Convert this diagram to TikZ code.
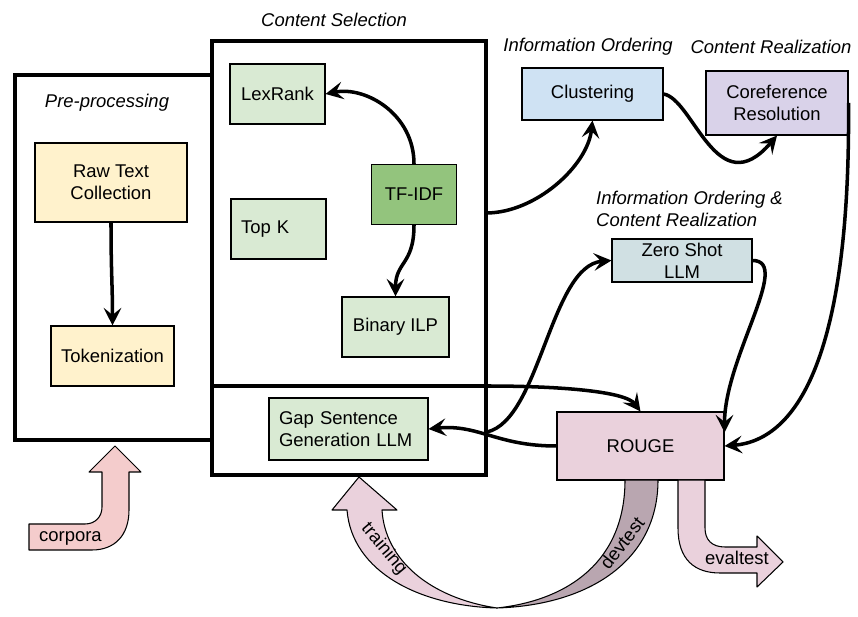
\documentclass[tikz,border=0pt]{standalone}
\usepackage{fontspec}
\setmainfont{Liberation Sans}
\usetikzlibrary{arrows.meta}

\definecolor{prepyellow}{HTML}{FFF2CC}
\definecolor{selgreen}{HTML}{D9EAD3}
\definecolor{tfgreen}{HTML}{93C47D}
\definecolor{ordblue}{HTML}{CFE2F3}
\definecolor{realpurple}{HTML}{D9D2E9}
\definecolor{llmgrey}{HTML}{D0E0E3}
\definecolor{evalpink}{HTML}{EAD1DC}
\definecolor{devmauve}{HTML}{B9A6B0}
\definecolor{corpuspink}{HTML}{F4CCCC}

\tikzset{
    every node/.style={font=\fontsize{10.5}{12.5}\selectfont},
    stagebox/.style={draw, line width=2.1pt},
    procbox/.style={draw, line width=0.6pt, align=center, inner sep=2pt},
    stagelabel/.style={font=\fontsize{10.5}{12.5}\selectfont\itshape},
    flow/.style={line width=2pt, -{Stealth[length=10pt,width=10pt,inset=4pt]}},
    bigarrow/.style={draw, line width=0.6pt, line join=round}
}

\begin{document}
\begin{tikzpicture}[x=0.02cm, y=-0.02cm]
    \useasboundingbox (0,0) rectangle (858,617);

    % Pre-processing stage
    \draw[stagebox] (15,75) rectangle (212,440);
    \node[stagelabel] (preplabel) at (107,103) {Pre-processing};
    \node[procbox, fill=prepyellow, minimum width=3.04cm, minimum height=1.58cm] (rawtext) at (111,182.5) {Raw Text\\Collection};
    \node[procbox, fill=prepyellow, minimum width=2.46cm, minimum height=1.2cm] (tokenize) at (112.5,356) {Tokenization};
    \draw[flow] (rawtext.south) .. controls +(0,50) and +(0,-40) .. (tokenize.north);

    % Content selection stage
    \draw[stagebox] (212,41) rectangle (486,475);
    \node[stagelabel] (sellabel) at (334,20) {Content Selection};
    \node[procbox, fill=selgreen, minimum width=1.9cm, minimum height=1.2cm] (lexrank) at (277.5,94) {LexRank};
    \node[procbox, fill=selgreen, text width=1.5cm, inner xsep=0.2cm, align=left, minimum height=1.2cm] (topk) at (278.5,229) {Top K};
    \node[procbox, fill=tfgreen, minimum width=1.7cm, minimum height=1.2cm] (tfidf) at (414,194.5) {TF-IDF};
    \node[procbox, fill=selgreen, minimum width=2.14cm, minimum height=1.2cm] (binilp) at (395.5,327) {Binary ILP};
    \draw[flow] (tfidf.north) .. controls +(0,-50) and +(40,-8) .. (lexrank.east);
    \draw[flow] (tfidf.south) .. controls +(0,40) and +(0,-35) .. (binilp.north);

    % Fine-tuned LLM part
    \draw[stagebox] (212,386) -- (486,386);
    \node[procbox, fill=selgreen, text width=2.78cm, inner xsep=0.2cm, align=left, minimum height=1.24cm] (gapsent) at (348.5,429) {Gap Sentence\\Generation LLM};

    % Information ordering and content realization
    \node[stagelabel] (ordlabel) at (588,47) {Information Ordering};
    \node[stagelabel] (reallabel) at (771,47) {Content Realization};
    \node[stagelabel, anchor=west, align=left] (llmlabel) at (590,208.5) {Information Ordering \&\\Content Realization};
    \node[procbox, fill=ordblue, minimum width=2.82cm, minimum height=1.04cm] (cluster) at (592.5,94) {Clustering};
    \node[procbox, fill=realpurple, minimum width=2.84cm, minimum height=1.28cm] (coref) at (777,103) {Coreference\\Resolution};
    \node[procbox, fill=llmgrey, minimum width=2.8cm, minimum height=0.86cm] (zeroshot) at (682,260.5) {Zero Shot\\LLM};

    % Evaluation
    \node[procbox, fill=evalpink, minimum width=3.34cm, minimum height=1.36cm] (rouge) at (640.5,446) {ROUGE};

    % Connectors between stages
    \coordinate (selout) at (486,213);
    \coordinate (llmout) at (486,386);
    \coordinate (branch) at (487,432);
    \draw[flow] (selout) .. controls +(50,0) and +(-5,45) .. (cluster.south);
    \draw[flow] (cluster.east) .. controls +(30,5) and +(-60,70) .. (coref.south);
    \draw[flow] (coref.east) .. controls +(2,247) and +(75,-6) .. (rouge.east);
    \draw[flow] (zeroshot.east) .. controls +(40,0) and +(0,-75) .. ([yshift=-0.42cm]rouge.north east);
    \draw[flow] (llmout) .. controls +(75,0) and +(-15,-20) .. (rouge.north);
    \draw[flow] (rouge.west) .. controls +(-60,0) and +(50,-5) .. (gapsent.east);
    \draw[flow] (branch) .. controls +(53,-12) and +(-61,5) .. (zeroshot.west);

    % Block arrows
    \filldraw[bigarrow, fill=corpuspink] (29,524) -- (85,524) .. controls (95,524) and (102,517) .. (102,507)
        -- (102,472) -- (89,472) -- (115,446) -- (141,472) -- (129,472) -- (129,510)
        .. controls (129,535) and (115,550) .. (92,550) -- (29,550) -- cycle;
    \node[anchor=west] (corpora) at (33,538) {corpora};

    \filldraw[bigarrow, fill=devmauve] (625,480) .. controls (625,560) and (570,600) .. (497,608)
        .. controls (590,605) and (658,560) .. (658,480) -- cycle;
    \filldraw[bigarrow, fill=evalpink] (497,608) .. controls (430,598) and (385,560) .. (382,510)
        -- (397,510) -- (359,477) -- (332,510) -- (347,510)
        .. controls (352,572) and (420,606) .. (497,608) -- cycle;
    \node[rotate=-50] (training) at (384,549) {training};
    \node[rotate=52] (devtest) at (622,543) {devtest};

    \filldraw[bigarrow, fill=evalpink] (678,480) -- (678,528) .. controls (678,560) and (695,573) .. (720,573)
        -- (757,573) -- (757,587) -- (783,562) -- (757,536) -- (757,547) -- (725,547)
        .. controls (712,547) and (705,540) .. (705,528) -- (705,480) -- cycle;
    \node (evaltest) at (737,558) {evaltest};
\end{tikzpicture}
\end{document}
